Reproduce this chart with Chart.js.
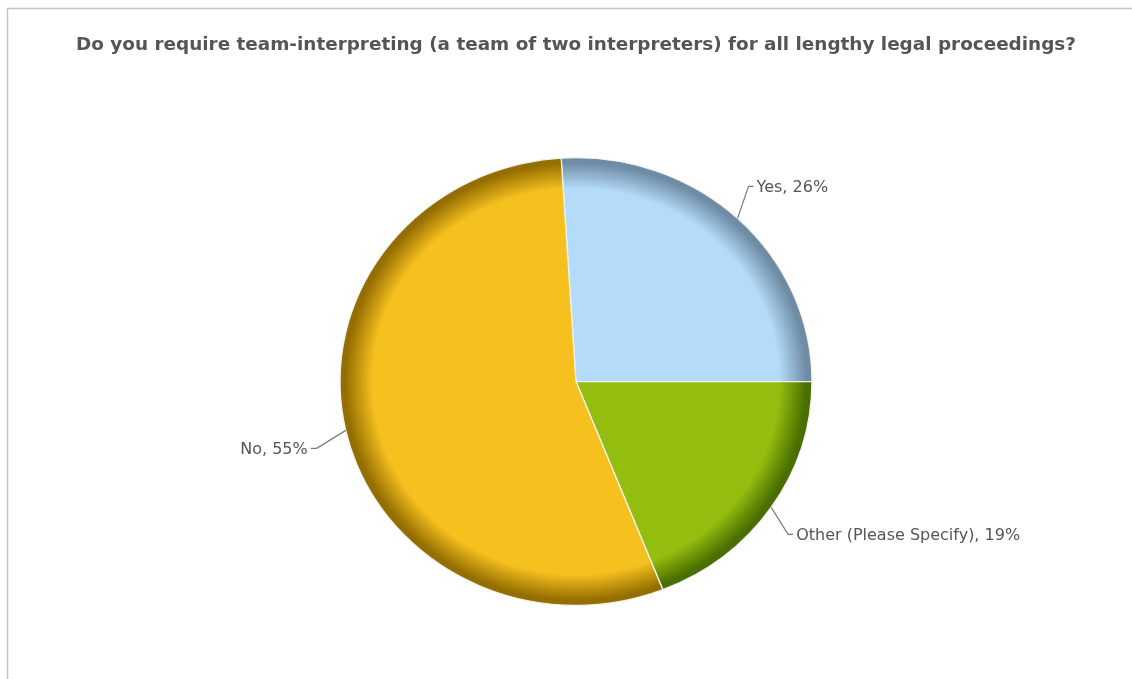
<!DOCTYPE html>
<html>
<head>
<meta charset="utf-8">
<style>
  html, body { margin: 0; padding: 0; background: #ffffff; }
  #wrap { position: relative; width: 1132px; height: 679px; }
</style>
<script src="https://cdn.jsdelivr.net/npm/chart.js@4.4.1/dist/chart.umd.min.js"></script>
</head>
<body>
<div id="wrap"><canvas id="c" width="1132" height="679"></canvas></div>
<script>
// ---- data ----
const titleText = "Do you require team-interpreting (a team of two interpreters) for all lengthy legal proceedings?";
const categories = ["Yes", "Other (Please Specify)", "No"];
const percentValues = [26, 19, 55];

// ---- styles ----
const baseColors = ["#b4dbf9", "#93be0f", "#f6c01f"];
const edgeColors = ["#6f8ca5", "#4a6e00", "#956e00"];
const labelOffsets = [[11, -32], [17, 27], [-29, 18]]; // elbow offsets from slice edge
const SX = 1.054; // horizontal stretch of the pie

function sliceFill(ctx) {
  const chart = ctx.chart;
  const a = chart.chartArea;
  const i = ctx.dataIndex;
  if (!a) return baseColors[i];
  const cx = (a.left + a.right) / 2, cy = (a.top + a.bottom) / 2;
  const r = Math.min(a.right - a.left, a.bottom - a.top) / 2;
  const g = chart.ctx.createRadialGradient(cx, cy, 0, cx, cy, r);
  g.addColorStop(0, baseColors[i]);
  g.addColorStop(0.86, baseColors[i]);
  g.addColorStop(0.975, edgeColors[i]);
  g.addColorStop(1, edgeColors[i]);
  return g;
}

const stretchPlugin = {
  id: 'stretch',
  beforeDatasetsDraw(chart) {
    const a = chart.chartArea;
    const cx = (a.left + a.right) / 2, cy = (a.top + a.bottom) / 2;
    const ctx = chart.ctx;
    ctx.save();
    ctx.translate(cx, cy);
    ctx.scale(SX, 1);
    ctx.translate(-cx, -cy);
  },
  afterDatasetsDraw(chart) {
    chart.ctx.restore();
  }
};

const framePlugin = {
  id: 'frame',
  beforeDraw(chart) {
    const ctx = chart.ctx;
    ctx.save();
    ctx.strokeStyle = '#c4c4c4';
    ctx.lineWidth = 1.5;
    ctx.beginPath();
    ctx.moveTo(7.5, chart.height);
    ctx.lineTo(7.5, 8.5);
    ctx.lineTo(chart.width + 2, 8.5);
    ctx.stroke();
    ctx.restore();
  }
};

const labelPlugin = {
  id: 'sliceLabels',
  afterDraw(chart) {
    const ctx = chart.ctx;
    const meta = chart.getDatasetMeta(0);
    ctx.save();
    ctx.font = '16px "DejaVu Sans", Verdana, sans-serif';
    ctx.textBaseline = 'middle';
    meta.data.forEach((arc, i) => {
      const mid = (arc.startAngle + arc.endAngle) / 2;
      const r = arc.outerRadius;
      const ex = arc.x + SX * r * Math.cos(mid);
      const ey = arc.y + r * Math.sin(mid);
      const bx = ex + labelOffsets[i][0];
      const by = ey + labelOffsets[i][1];
      const right = Math.cos(mid) >= 0;
      const hx = bx + (right ? 5 : -6);
      ctx.strokeStyle = '#7a7a7a';
      ctx.lineWidth = 1.2;
      ctx.beginPath();
      ctx.moveTo(ex, ey);
      ctx.lineTo(bx, by);
      ctx.lineTo(hx, by);
      ctx.stroke();
      ctx.fillStyle = '#555555';
      ctx.textAlign = right ? 'left' : 'right';
      const txt = categories[i] + ', ' + percentValues[i] + '%';
      ctx.fillText(txt, hx + (right ? 3 : -3), by + 1);
    });
    ctx.restore();
  }
};

new Chart(document.getElementById('c'), {
  type: 'pie',
  data: {
    labels: categories,
    datasets: [{
      data: percentValues,
      backgroundColor: sliceFill,
      borderColor: '#f2f2f2',
      borderWidth: 1.2,
      clip: false
    }]
  },
  options: {
    responsive: false,
    animation: false,
    events: [],
    rotation: -3.6,
    layout: { padding: { left: 20, right: 0, top: 0, bottom: 73 } },
    plugins: {
      legend: { display: false },
      tooltip: { enabled: false },
      title: {
        display: true,
        text: titleText,
        color: '#555555',
        font: { family: '"DejaVu Sans", Verdana, sans-serif', size: 18.4, weight: 'bold', lineHeight: 1.2 },
        padding: { top: 34, bottom: 101 }
      }
    }
  },
  plugins: [framePlugin, stretchPlugin, labelPlugin]
});
</script>
</body>
</html>
